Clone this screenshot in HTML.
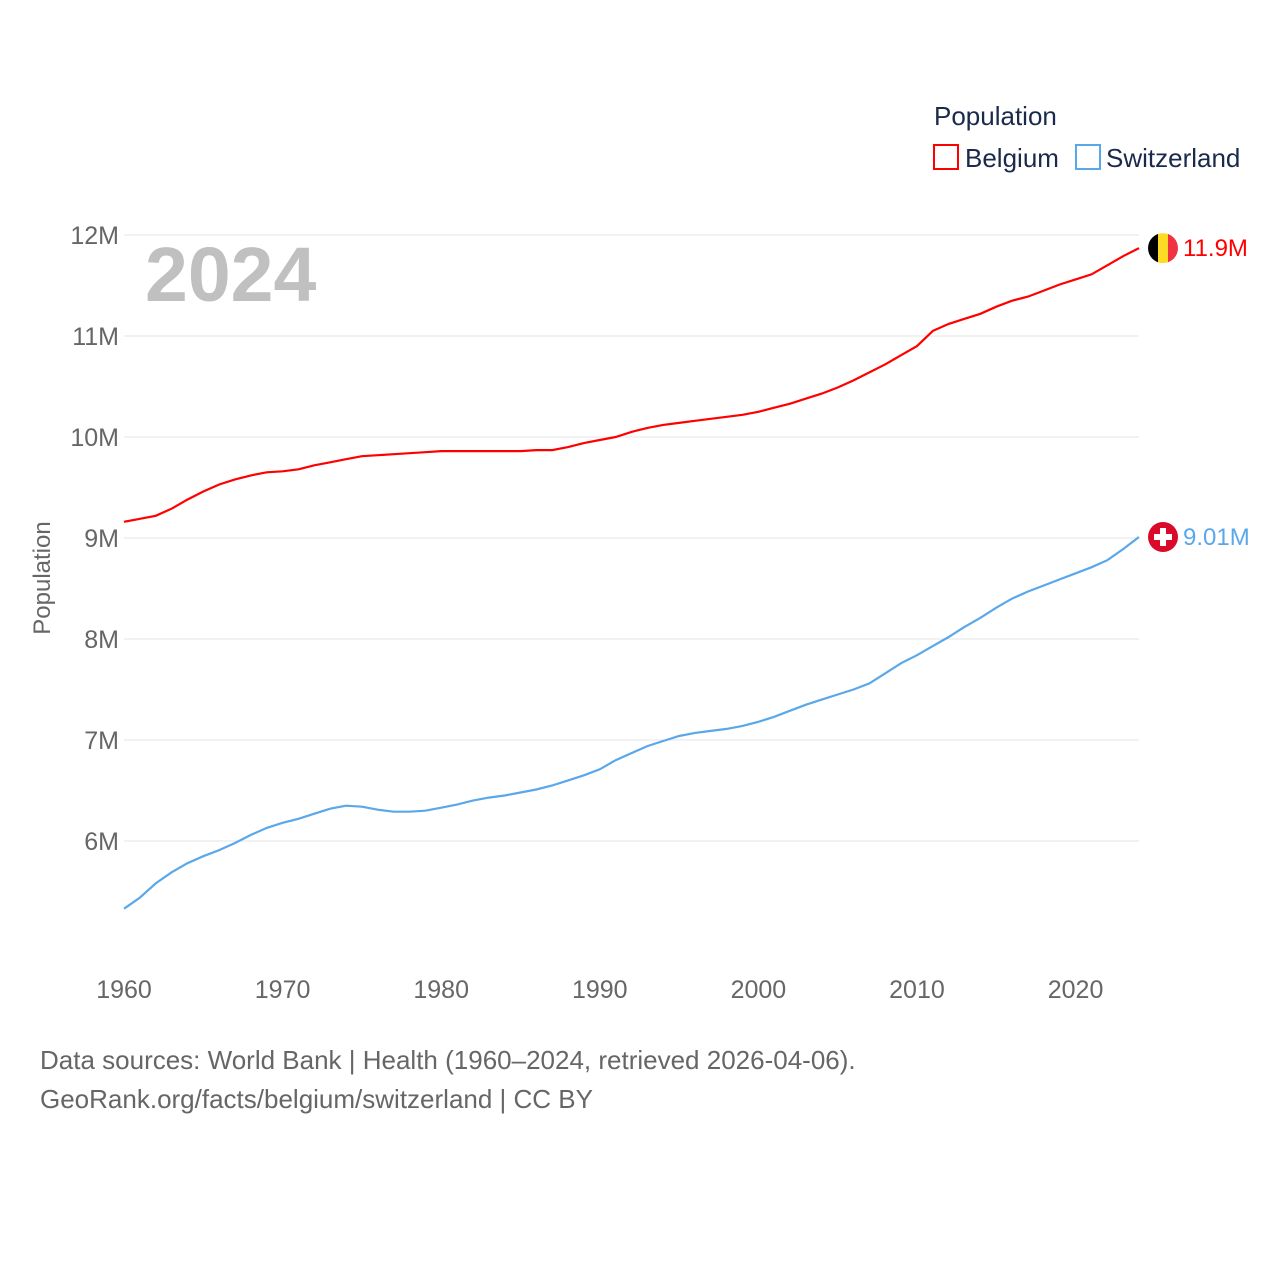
<!DOCTYPE html>
<html><head><meta charset="utf-8"><style>
body{margin:0;background:#fff;}
svg{display:block;font-family:"Liberation Sans",sans-serif;}
</style></head><body>
<svg id="chart" width="1280" height="1280">
  <text x="934" y="125" font-size="26" fill="#1a2a4a">Population</text>
  <g>
    <rect x="934" y="145" width="24" height="24" fill="none" stroke="#ff0000" stroke-width="2"/>
    <text x="965" y="167" font-size="26" fill="#1a2a4a">Belgium</text>
  </g>
  <g>
    <rect x="1076" y="145" width="24" height="24" fill="none" stroke="#5aa7ea" stroke-width="2"/>
    <text x="1106" y="167" font-size="26" fill="#1a2a4a">Switzerland</text>
  </g>
  <text x="145" y="301" font-size="77" font-weight="bold" fill="#c0c0c0">2024</text>
  <text transform="translate(50,578) rotate(-90)" text-anchor="middle" font-size="24" fill="#666">Population</text>
  <g id="grid"></g><g id="ylabels"></g><g id="xlabels"></g><g id="lines"></g><g id="ends"></g>
  <text x="40" y="1069" font-size="26" fill="#666">Data sources: World Bank | Health (1960–2024, retrieved 2026-04-06).</text>
  <text x="40" y="1108" font-size="26" fill="#666">GeoRank.org/facts/belgium/switzerland | CC BY</text>
</svg>
<script>
const years=[];for(let y=1960;y<=2024;y++)years.push(y);
const belgium=[9.16,9.19,9.22,9.29,9.38,9.46,9.53,9.58,9.62,9.65,9.66,9.68,9.72,9.75,9.78,9.81,9.82,9.83,9.84,9.85,9.86,9.86,9.86,9.86,9.86,9.86,9.87,9.87,9.90,9.94,9.97,10.0,10.05,10.09,10.12,10.14,10.16,10.18,10.2,10.22,10.25,10.29,10.33,10.38,10.43,10.49,10.56,10.64,10.72,10.81,10.9,11.05,11.12,11.17,11.22,11.29,11.35,11.39,11.45,11.51,11.56,11.61,11.7,11.79,11.87];
const switzerland=[5.33,5.44,5.58,5.69,5.78,5.85,5.91,5.98,6.06,6.13,6.18,6.22,6.27,6.32,6.35,6.34,6.31,6.29,6.29,6.30,6.33,6.36,6.40,6.43,6.45,6.48,6.51,6.55,6.60,6.65,6.71,6.80,6.87,6.94,6.99,7.04,7.07,7.09,7.11,7.14,7.18,7.23,7.29,7.35,7.40,7.45,7.50,7.56,7.66,7.76,7.84,7.93,8.02,8.12,8.21,8.31,8.40,8.47,8.53,8.59,8.65,8.71,8.78,8.89,9.01];
const yTicks=[6,7,8,9,10,11,12];
const xTicks=[1960,1970,1980,1990,2000,2010,2020];
const NS="http://www.w3.org/2000/svg";
const xS=y=>124+(y-1960)*(1139-124)/64;
const yS=v=>841-(v-6)*101;
function mk(t,a,p){const e=document.createElementNS(NS,t);for(const k in a)e.setAttribute(k,a[k]);document.getElementById(p).appendChild(e);return e;}
yTicks.forEach(v=>{
  const l=mk('line',{x1:124,x2:1139,y1:yS(v),y2:yS(v),stroke:'#e6e6e6','stroke-width':1},'grid');
  
  
  const t=mk('text',{x:119,y:yS(v)+9,'text-anchor':'end','font-size':25,fill:'#666'},'ylabels');
  t.textContent=v+'M';
  
  
});
xTicks.forEach(v=>{
  const t=mk('text',{x:xS(v),y:998,'text-anchor':'middle','font-size':25,fill:'#666'},'xlabels');
  t.textContent=v;
  
  
});
function line(data,color,name){
  const d=data.map((v,i)=>(i?'L':'M')+xS(years[i]).toFixed(1)+','+yS(v).toFixed(1)).join('');
  const p=mk('path',{d:d,fill:'none',stroke:color,'stroke-width':2.2},'lines');
  
  
}
line(belgium,'#ff0000','belgium-line');
line(switzerland,'#5aa7ea','switzerland-line');
const bY=yS(belgium[belgium.length-1]), sY=yS(switzerland[switzerland.length-1]);
const bg=mk('g',{},'ends');


bg.innerHTML=`<clipPath id="cb"><circle cx="1163" cy="${bY}" r="15"/></clipPath><g clip-path="url(#cb)"><rect x="1148" y="${bY-15}" width="10" height="30" fill="#000"/><rect x="1158" y="${bY-15}" width="10" height="30" fill="#fdda24"/><rect x="1168" y="${bY-15}" width="10" height="30" fill="#ef3340"/></g>`;
const bt=mk('text',{x:1183,y:bY+8,'font-size':24,fill:'#ff0000'},'ends');
bt.textContent='11.9M';


const sg=mk('g',{},'ends');


sg.innerHTML=`<circle cx="1163" cy="${sY}" r="15" fill="#da0a2a"/><rect x="1160" y="${sY-9}" width="6" height="18" fill="#fff"/><rect x="1154" y="${sY-3}" width="18" height="6" fill="#fff"/>`;
const st=mk('text',{x:1183,y:sY+8,'font-size':24,fill:'#5aa7ea'},'ends');
st.textContent='9.01M';


</script>
</body></html>
